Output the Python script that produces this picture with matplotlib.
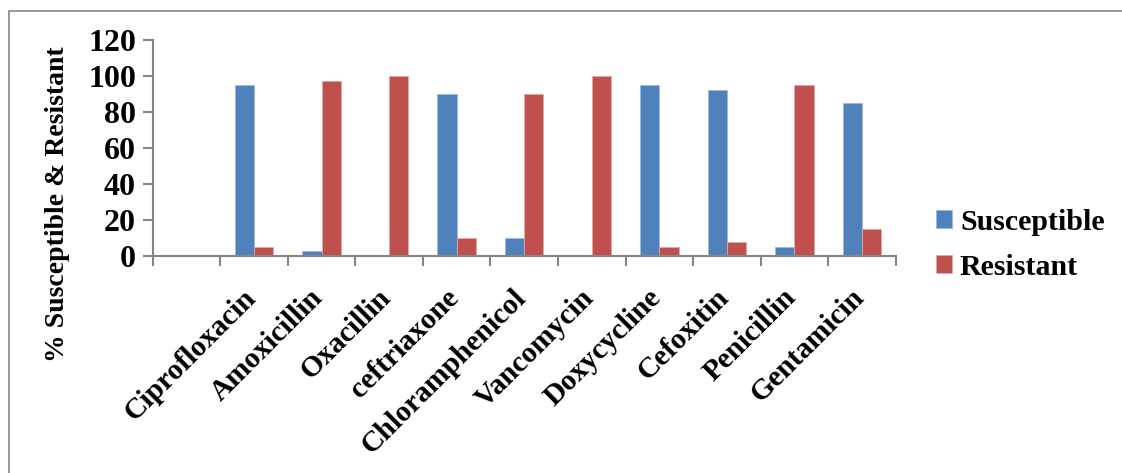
import matplotlib
matplotlib.use("Agg")
import matplotlib.pyplot as plt
import matplotlib.transforms as mtransforms
import numpy as np
from matplotlib.patches import Rectangle

categories = ["", "Ciprofloxacin", "Amoxicillin", "Oxacillin", "ceftriaxone",
              "Chloramphenicol", "Vancomycin", "Doxycycline", "Cefoxitin",
              "Penicillin", "Gentamicin"]
susceptible = [0, 95, 2.5, 0, 90, 10, 0, 95, 92.5, 5, 85]
resistant = [0, 5, 97.5, 100, 10, 90, 100, 5, 7.5, 95, 15]
yticks = [0, 20, 40, 60, 80, 100, 120]

plt.rcParams['font.family'] = ['Liberation Serif', 'DejaVu Serif']
W, H = 1122, 473
fig = plt.figure(figsize=(W / 100, H / 100), dpi=100)

ax = fig.add_axes([152.7 / W, 1 - 256 / H, (895.7 - 152.7) / W, (256 - 40) / H])
x = np.arange(len(categories))
bw = 0.285
blue = "#4F81BD"
red = "#C0504D"
ax.bar(x - bw / 2, susceptible, bw, color=blue, edgecolor="#9DB8DB", linewidth=0.6, label="Susceptible")
ax.bar(x + bw / 2, resistant, bw, color=red, edgecolor="#E0A8A6", linewidth=0.6, label="Resistant")

ax.set_xlim(-0.5, len(categories) - 0.5)
ax.set_ylim(0, 120)
ax.set_yticks(yticks)
ax.set_yticklabels([str(v) for v in yticks], fontsize=23, fontweight="bold")
ax.set_xticks(np.arange(len(categories) + 1) - 0.5)
ax.set_xticklabels([])
ax.set_xticks(x, minor=True)
ax.set_xticklabels(categories, minor=True, rotation=45, ha="right", va="top",
                   rotation_mode="anchor", fontsize=21.3, fontweight="bold")
ax.tick_params(axis="x", which="minor", length=0, pad=20)
offset = mtransforms.ScaledTranslation(-12 / 100, 0, fig.dpi_scale_trans)
for lab in ax.get_xticklabels(minor=True):
    lab.set_transform(lab.get_transform() + offset)
ax.tick_params(axis="x", which="major", length=7, width=1.5, color="#868686", direction="out")
ax.tick_params(axis="y", which="major", length=7, width=1.5, color="#868686", direction="out", pad=5)
for s in ["top", "right"]:
    ax.spines[s].set_visible(False)
for s in ["left", "bottom"]:
    ax.spines[s].set_color("#868686")
    ax.spines[s].set_linewidth(1.5)

fig.text(58 / W, 1 - 204 / H, "% Susceptible & Resistant", rotation=90,
         ha="center", va="center", fontsize=20, fontweight="bold")

leg = fig.legend(loc="center left", bbox_to_anchor=(936 / W, 1 - 245 / H),
                 frameon=False, prop={"size": 21.5, "weight": "bold"},
                 handlelength=0.55, handleheight=0.55, handletextpad=0.25,
                 labelspacing=0.6, borderpad=0, borderaxespad=0)

fig.patches.append(Rectangle((8.5 / W, -0.1), 1.2, 1 - 11 / H + 0.1, transform=fig.transFigure,
                             fill=False, edgecolor="#868686", linewidth=1.2))

fig.savefig("out.png", dpi=100, facecolor="white")
